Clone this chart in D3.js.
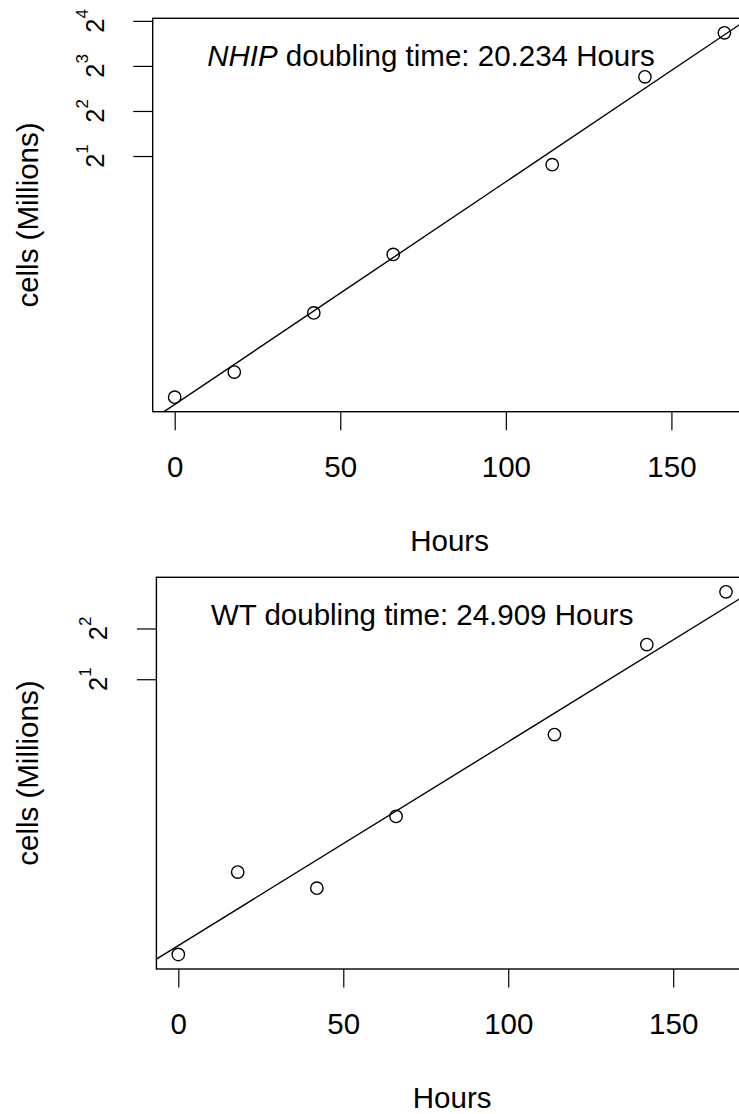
<!DOCTYPE html>
<html>
<head>
<meta charset="utf-8">
<script src="https://cdn.jsdelivr.net/npm/d3@7"></script>
<style>
  html, body { margin: 0; padding: 0; background: #fff; }
  svg { display: block; }
  text { font-family: "Liberation Sans", Arial, Helvetica, sans-serif; fill: #000; }
</style>
</head>
<body>
<svg id="chart" width="739" height="1114"></svg>
<script>
// Sampling times (hours) shared by both cell lines
const hours = [0, 18, 42, 66, 114, 142, 166];
// Cell counts in millions
const nhipCells = [0.049, 0.072, 0.179, 0.44, 1.75, 6.76, 13.3];
const wtCells = [0.0466, 0.1436, 0.1152, 0.307, 0.939, 3.21, 6.60];
// Fitted doubling times (hours)
const nhipDoubling = 20.234;
const wtDoubling = 24.909;
// Axis ticks
const xTicks = [0, 50, 100, 150];
const nhipYTicks = [2, 4, 8, 16];
const wtYTicks = [2, 4];

const svg = d3.select("#chart");
const FONT = 29.5;

const panels = [
  { cells: nhipCells, doubling: nhipDoubling, yTicks: nhipYTicks, label: "NHIP", italic: true,
    left: 152.7, right: 746.4, top: 18.3, bottom: 411.7 },
  { cells: wtCells, doubling: wtDoubling, yTicks: wtYTicks, label: "WT", italic: false,
    left: 156.4, right: 747.9, top: 577.3, bottom: 969 }
];

// R-style 4% padding of a data range
function padRange(lo, hi) {
  const d = (hi - lo) * 0.04;
  return [lo - d, hi + d];
}

panels.forEach((p, i) => {
  const g = svg.append("g");

  const xDom = padRange(d3.min(hours), d3.max(hours));
  const logs = p.cells.map(v => Math.log2(v));
  const yDomLog = padRange(d3.min(logs), d3.max(logs));

  const x = d3.scaleLinear().domain(xDom).range([p.left, p.right]);
  const y = d3.scaleLog().base(2)
    .domain([Math.pow(2, yDomLog[0]), Math.pow(2, yDomLog[1])])
    .range([p.bottom, p.top]);

  const clipId = "clip" + i;
  svg.append("clipPath").attr("id", clipId)
    .append("rect")
    .attr("x", p.left).attr("y", p.top)
    .attr("width", p.right - p.left).attr("height", p.bottom - p.top);

  // Plot frame
  g.append("rect")
    .attr("x", p.left).attr("y", p.top)
    .attr("width", p.right - p.left).attr("height", p.bottom - p.top)
    .attr("fill", "none").attr("stroke", "#000").attr("stroke-width", 1.4);

  // X axis
  const xAxis = g.append("g").attr("transform", `translate(0,${p.bottom})`)
    .call(d3.axisBottom(x).tickValues(xTicks).tickSize(18.5).tickPadding(0).tickFormat(d3.format("d")));
  xAxis.select(".domain").remove();
  xAxis.selectAll(".tick line").attr("stroke", "#000").attr("stroke-width", 1.2);
  xAxis.selectAll(".tick text")
    .attr("font-size", FONT).attr("font-family", null)
    .attr("y", 65).attr("dy", null);

  // Y axis with 2^n labels
  const yAxis = g.append("g").attr("transform", `translate(${p.left},0)`)
    .call(d3.axisLeft(y).tickValues(p.yTicks).tickSize(19.5).tickFormat(""));
  yAxis.select(".domain").remove();
  yAxis.selectAll(".tick line").attr("stroke", "#000").attr("stroke-width", 1.2);

  p.yTicks.forEach(v => {
    const t = g.append("text")
      .attr("transform", `translate(${p.left - 49},${y(v)}) rotate(-90)`)
      .attr("text-anchor", "middle")
      .attr("font-size", 25.5);
    t.append("tspan").text("2");
    t.append("tspan").attr("font-size", 17).attr("dy", -16).text(String(Math.round(Math.log2(v))));
  });

  // Axis titles
  g.append("text")
    .attr("x", (p.left + p.right) / 2).attr("y", p.bottom + 139)
    .attr("text-anchor", "middle").attr("font-size", FONT)
    .text("Hours");
  g.append("text")
    .attr("transform", `translate(37.5,${(p.top + p.bottom) / 2}) rotate(-90)`)
    .attr("text-anchor", "middle").attr("font-size", FONT)
    .text("cells (Millions)");

  // Exponential fit: log2(cells) grows by 1 every doubling time
  const meanT = d3.mean(hours);
  const meanL = d3.mean(logs);
  const fit = t => Math.pow(2, meanL + (t - meanT) / p.doubling);
  g.append("line")
    .attr("clip-path", `url(#${clipId})`)
    .attr("x1", x(xDom[0])).attr("y1", y(fit(xDom[0])))
    .attr("x2", x(xDom[1])).attr("y2", y(fit(xDom[1])))
    .attr("stroke", "#000").attr("stroke-width", 1.4);

  // Observations
  g.selectAll("circle.pt")
    .data(hours.map((h, k) => [h, p.cells[k]]))
    .join("circle")
    .attr("class", "pt")
    .attr("cx", d => x(d[0])).attr("cy", d => y(d[1]))
    .attr("r", 6.2)
    .attr("fill", "none").attr("stroke", "#000").attr("stroke-width", 1.4);

  // Doubling-time annotation
  const ann = g.append("text")
    .attr("x", p.left + 54.5).attr("y", p.top + 48)
    .attr("font-size", FONT);
  ann.append("tspan").attr("font-style", p.italic ? "italic" : null).text(p.label);
  ann.append("tspan").text(` doubling time: ${p.doubling.toFixed(3)} Hours`);
});
</script>
</body>
</html>
